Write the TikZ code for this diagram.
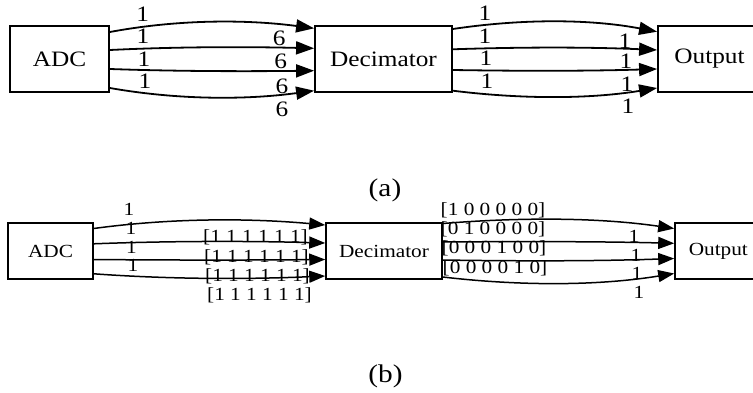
\documentclass[tikz,border=0pt]{standalone}
\usepackage{fontspec}
\setmainfont[FakeStretch=1.15]{Liberation Serif}
\usetikzlibrary{arrows.meta}
\begin{document}
\begin{tikzpicture}[x=1pt,y=-1pt,
  boxa/.style={draw,line width=1.8pt,inner sep=0pt,minimum height=66pt,font=\fontsize{22}{25}\selectfont},
  boxb/.style={draw,line width=1.5pt,inner sep=0pt,minimum height=56pt,font=\fontsize{18.5}{21}\selectfont},
  linka/.style={line width=1.8pt,-{Triangle[length=18pt,width=13pt]}},
  linkb/.style={line width=1.5pt,-{Triangle[length=16pt,width=12pt]}},
  laba/.style={inner sep=0pt,text depth=0pt,font=\fontsize{22}{25}\selectfont},
  labb/.style={inner sep=0pt,text depth=0pt,font=\fontsize{18.5}{21}\selectfont},
  caption/.style={inner sep=0pt,font=\fontsize{25.5}{28}\selectfont}]
\useasboundingbox (0,0) rectangle (753,393);

% ---------- (a) ----------
\node[boxa,minimum width=99pt]  (adcA) at (59.5,59)  {ADC};
\node[boxa,minimum width=137pt] (decA) at (383.5,59) {Decimator};
\node[boxa,minimum width=103pt] (outA) at (709.5,59) {Output};

\draw[linka] ([yshift=27pt]adcA.east)  .. controls (178,19.3) and (246,19.3) .. ([yshift=30.7pt]decA.west);
\draw[linka] ([yshift=9pt]adcA.east)   .. controls (178,46.7) and (246,46.7) .. ([yshift=10.7pt]decA.west);
\draw[linka] ([yshift=-10pt]adcA.east) .. controls (178,71.4) and (246,71.4) .. ([yshift=-11.7pt]decA.west);
\draw[linka] ([yshift=-29pt]adcA.east) .. controls (178,100) and (246,100) .. ([yshift=-31.7pt]decA.west);

\draw[linka] ([yshift=30pt]decA.east)    .. controls (521,18.8) and (589,18.8) .. ([yshift=27.3pt]outA.west);
\draw[linka] ([yshift=9.7pt]decA.east)   .. controls (521,47) and (589,47) .. ([yshift=9pt]outA.west);
\draw[linka] ([yshift=-11pt]decA.east)   .. controls (521,71.1) and (589,71.1) .. ([yshift=-10pt]outA.west);
\draw[linka] ([yshift=-31.7pt]decA.east) .. controls (521,99.2) and (589,99.2) .. ([yshift=-29pt]outA.west);

\node[laba] (ta1) at (142.7,14.5) {1};
\node[laba] (ta2) at (143,36.3) {1};
\node[laba] (ta3) at (144,59) {1};
\node[laba] (ta4) at (145,81.7) {1};
\node[laba] (ha1) at (279.3,38.3) {6};
\node[laba] (ha2) at (280.7,61.7) {6};
\node[laba] (ha3) at (282,86.3) {6};
\node[laba] (ha4) at (282,109) {6};

\node[laba] (tb1) at (485,13.3) {1};
\node[laba] (tb2) at (485,35.8) {1};
\node[laba] (tb3) at (486,58) {1};
\node[laba] (tb4) at (487,81.7) {1};
\node[laba] (hb1) at (625,40.8) {1};
\node[laba] (hb2) at (626,61) {1};
\node[laba] (hb3) at (627,83.8) {1};
\node[laba] (hb4) at (628,106) {1};

\node[caption] (capA) at (385,190) {(a)};

% ---------- (b) ----------
\node[boxb,minimum width=85pt]   (adcB) at (50.5,251) {ADC};
\node[boxb,minimum width=116pt]  (decB) at (384,251)  {Decimator};
\node[boxb,minimum width=86.7pt] (outB) at (718.3,251) {Output};

\draw[linkb] ([yshift=22.5pt]adcB.east) .. controls (171,218) and (248,218) .. ([yshift=26pt]decB.west);
\draw[linkb] ([yshift=7.2pt]adcB.east)  .. controls (171,240.9) and (248,240.9) .. ([yshift=8pt]decB.west);
\draw[linkb] ([yshift=-8.5pt]adcB.east) .. controls (171,260.2) and (248,260.2) .. ([yshift=-8.5pt]decB.west);
\draw[linkb] ([yshift=-22.8pt]adcB.east) .. controls (171,279.4) and (248,279.4) .. ([yshift=-25pt]decB.west);

\draw[linkb] ([yshift=27.5pt]decB.east) .. controls (520,217.3) and (597,217.3) .. ([yshift=22.5pt]outB.west);
\draw[linkb] ([yshift=9pt]decB.east)    .. controls (520,241.4) and (597,241.4) .. ([yshift=7.7pt]outB.west);
\draw[linkb] ([yshift=-9pt]decB.east)   .. controls (520,261.2) and (597,261.2) .. ([yshift=-7.5pt]outB.west);
\draw[linkb] ([yshift=-26pt]decB.east)  .. controls (520,286) and (597,286) .. ([yshift=-22.5pt]outB.west);

\node[labb] (tc1) at (129,209) {1};
\node[labb] (tc2) at (131,228) {1};
\node[labb] (tc3) at (131.5,247) {1};
\node[labb] (tc4) at (133,265) {1};
\node[labb] (hc1) at (255.5,235.7) {[1 1 1 1 1 1]};
\node[labb] (hc2) at (256.5,256) {[1 1 1 1 1 1]};
\node[labb] (hc3) at (257.5,275) {[1 1 1 1 1 1]};
\node[labb] (hc4) at (259.5,294) {[1 1 1 1 1 1]};

\node[labb] (td1) at (493,209) {[1 0 0 0 0 0]};
\node[labb] (td2) at (493,228) {[0 1 0 0 0 0]};
\node[labb] (td3) at (494,247) {[0 0 0 1 0 0]};
\node[labb] (td4) at (495,267) {[0 0 0 0 1 0]};
\node[labb] (hd1) at (634,236) {1};
\node[labb] (hd2) at (636,255) {1};
\node[labb] (hd3) at (637,273) {1};
\node[labb] (hd4) at (639,292) {1};

\node[caption] (capB) at (385.5,376) {(b)};
\end{tikzpicture}
\end{document}
